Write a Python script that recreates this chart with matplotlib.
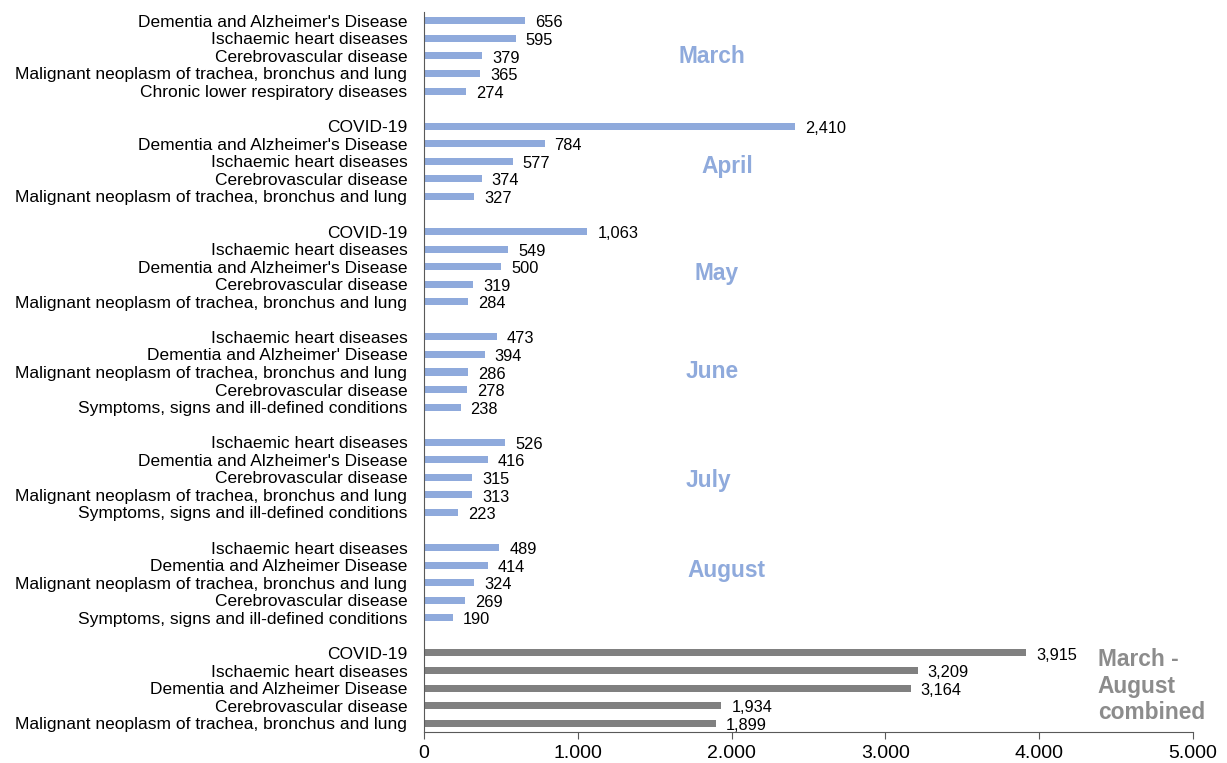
import matplotlib.pyplot as plt
from matplotlib.ticker import FuncFormatter

plt.rcParams['font.family'] = ['Liberation Sans', 'DejaVu Sans']

# data, one group per period, top to bottom
periods = ["March", "April", "May", "June", "July", "August",
           "March -\nAugust\ncombined"]

causes = [
    ["Dementia and Alzheimer's Disease", "Ischaemic heart diseases",
     "Cerebrovascular disease", "Malignant neoplasm of trachea, bronchus and lung",
     "Chronic lower respiratory diseases"],
    ["COVID-19", "Dementia and Alzheimer's Disease", "Ischaemic heart diseases",
     "Cerebrovascular disease", "Malignant neoplasm of trachea, bronchus and lung"],
    ["COVID-19", "Ischaemic heart diseases", "Dementia and Alzheimer's Disease",
     "Cerebrovascular disease", "Malignant neoplasm of trachea, bronchus and lung"],
    ["Ischaemic heart diseases", "Dementia and Alzheimer' Disease",
     "Malignant neoplasm of trachea, bronchus and lung", "Cerebrovascular disease",
     "Symptoms, signs and ill-defined conditions"],
    ["Ischaemic heart diseases", "Dementia and Alzheimer's Disease",
     "Cerebrovascular disease", "Malignant neoplasm of trachea, bronchus and lung",
     "Symptoms, signs and ill-defined conditions"],
    ["Ischaemic heart diseases", "Dementia and Alzheimer Disease",
     "Malignant neoplasm of trachea, bronchus and lung", "Cerebrovascular disease",
     "Symptoms, signs and ill-defined conditions"],
    ["COVID-19", "Ischaemic heart diseases", "Dementia and Alzheimer Disease",
     "Cerebrovascular disease", "Malignant neoplasm of trachea, bronchus and lung"],
]

deaths = [
    [656, 595, 379, 365, 274],
    [2410, 784, 577, 374, 327],
    [1063, 549, 500, 319, 284],
    [473, 394, 286, 278, 238],
    [526, 416, 315, 313, 223],
    [489, 414, 324, 269, 190],
    [3915, 3209, 3164, 1934, 1899],
]

blue = '#8FAADC'
grey = '#808080'

fig = plt.figure(figsize=(12.27, 7.63), dpi=100)
ax = fig.add_axes([424 / 1227, 31 / 763, 769 / 1227, 720 / 763])

ypos = []
labels = []
pos = 0
for g in range(len(periods)):
    col = grey if g == len(periods) - 1 else blue
    ys = [pos + i for i in range(len(causes[g]))]
    ax.barh(ys, deaths[g], height=0.4, color=col)
    for y, v in zip(ys, deaths[g]):
        ax.text(v + 65, y + 0.12, f"{v:,}", va='center', ha='left', fontsize=11.8)
    ypos += ys
    labels += causes[g]
    pos += len(causes[g]) + 1

ax.set_ylim(pos - 1.5, -0.5)
ax.set_xlim(0, 5000)
ax.set_yticks(ypos)
ax.set_yticklabels(labels, fontsize=12.5)
ax.tick_params(axis='y', length=0, pad=12)
ax.set_xticks(range(0, 5001, 1000))
ax.xaxis.set_major_formatter(FuncFormatter(lambda x, p: f"{int(x):,}".replace(',', '.')))
ax.tick_params(axis='x', labelsize=14, length=5, pad=4, direction='out', color='#595959')

for s in ['top', 'right']:
    ax.spines[s].set_visible(False)
ax.spines['left'].set_color('#595959')
ax.spines['bottom'].set_color('#595959')

# period names next to the groups
month_x = [1875, 1973, 1901, 1875, 1849, 1966]
month_y = [2.05, 8.3, 14.4, 19.95, 26.2, 31.3]
for name, x, y in zip(periods[:-1], month_x, month_y):
    ax.text(x, y, name, ha='center', va='center', fontsize=16.4,
            fontweight='bold', color=blue)
ax.text(4381, 37.9, periods[-1], ha='left', va='center', fontsize=16.4,
        fontweight='bold', color='#8C8C8C', linespacing=1.2)

fig.savefig("out.png", dpi=100)
